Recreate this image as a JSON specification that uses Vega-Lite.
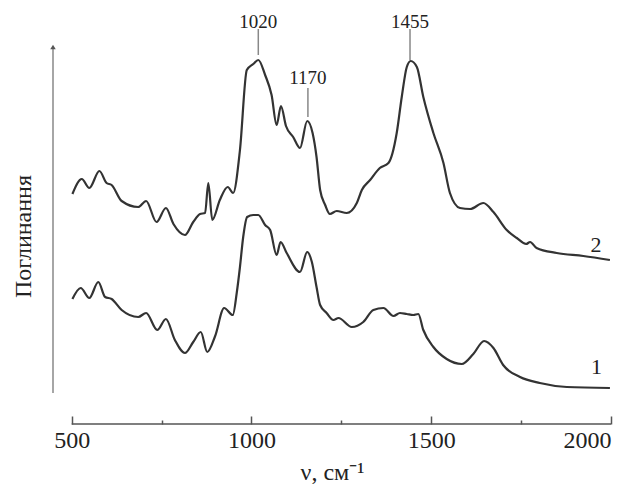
{
"$schema":"https://vega.github.io/schema/vega-lite/v6.json",
"width":558,"height":414,"autosize":"none",
"padding":{"left":53,"top":10,"right":12,"bottom":66},
"background":"white",
"config":{"view":{"stroke":null},"font":"Liberation Serif","axis":{"grid":false}},
"datasets":{
"spectra":[
{"s":"2","wn":502,"a":230},{"s":"2","wn":528,"a":245},{"s":"2","wn":549,"a":236},{"s":"2","wn":577,"a":253},{"s":"2","wn":597,"a":241},{"s":"2","wn":611,"a":239},{"s":"2","wn":639,"a":223},{"s":"2","wn":685,"a":217},{"s":"2","wn":707,"a":223},{"s":"2","wn":736,"a":202},{"s":"2","wn":762,"a":216},{"s":"2","wn":783,"a":200},{"s":"2","wn":815,"a":189},{"s":"2","wn":838,"a":202},{"s":"2","wn":857,"a":210},{"s":"2","wn":871,"a":211},{"s":"2","wn":880,"a":241},{"s":"2","wn":891,"a":204},{"s":"2","wn":912,"a":224},{"s":"2","wn":934,"a":237},{"s":"2","wn":949,"a":231},{"s":"2","wn":968,"a":274},{"s":"2","wn":987,"a":354},{"s":"2","wn":1005,"a":360},{"s":"2","wn":1019,"a":364},{"s":"2","wn":1038,"a":349},{"s":"2","wn":1056,"a":329},{"s":"2","wn":1070,"a":299},{"s":"2","wn":1082,"a":318},{"s":"2","wn":1096,"a":298},{"s":"2","wn":1116,"a":287},{"s":"2","wn":1135,"a":276},{"s":"2","wn":1155,"a":303},{"s":"2","wn":1170,"a":291},{"s":"2","wn":1181,"a":267},{"s":"2","wn":1191,"a":234},{"s":"2","wn":1205,"a":219},{"s":"2","wn":1218,"a":210},{"s":"2","wn":1237,"a":213},{"s":"2","wn":1265,"a":211},{"s":"2","wn":1293,"a":221},{"s":"2","wn":1307,"a":234},{"s":"2","wn":1330,"a":244},{"s":"2","wn":1357,"a":256},{"s":"2","wn":1381,"a":261},{"s":"2","wn":1404,"a":291},{"s":"2","wn":1418,"a":327},{"s":"2","wn":1432,"a":357},{"s":"2","wn":1443,"a":363},{"s":"2","wn":1460,"a":357},{"s":"2","wn":1478,"a":327},{"s":"2","wn":1506,"a":291},{"s":"2","wn":1534,"a":261},{"s":"2","wn":1552,"a":231},{"s":"2","wn":1580,"a":216},{"s":"2","wn":1608,"a":215},{"s":"2","wn":1645,"a":221},{"s":"2","wn":1673,"a":212},{"s":"2","wn":1710,"a":194},{"s":"2","wn":1738,"a":186},{"s":"2","wn":1764,"a":180},{"s":"2","wn":1775,"a":182},{"s":"2","wn":1793,"a":176},{"s":"2","wn":1849,"a":171},{"s":"2","wn":1923,"a":168},{"s":"2","wn":1997,"a":164},
{"s":"1","wn":502,"a":125},{"s":"1","wn":525,"a":136},{"s":"1","wn":549,"a":126},{"s":"1","wn":574,"a":142},{"s":"1","wn":593,"a":127},{"s":"1","wn":611,"a":125},{"s":"1","wn":639,"a":114},{"s":"1","wn":685,"a":107},{"s":"1","wn":707,"a":111},{"s":"1","wn":738,"a":94},{"s":"1","wn":762,"a":105},{"s":"1","wn":787,"a":84},{"s":"1","wn":815,"a":71},{"s":"1","wn":838,"a":82},{"s":"1","wn":859,"a":92},{"s":"1","wn":877,"a":72},{"s":"1","wn":899,"a":88},{"s":"1","wn":924,"a":116},{"s":"1","wn":948,"a":109},{"s":"1","wn":959,"a":131},{"s":"1","wn":968,"a":157},{"s":"1","wn":977,"a":187},{"s":"1","wn":988,"a":207},{"s":"1","wn":1005,"a":209},{"s":"1","wn":1019,"a":209},{"s":"1","wn":1038,"a":199},{"s":"1","wn":1052,"a":194},{"s":"1","wn":1070,"a":169},{"s":"1","wn":1081,"a":182},{"s":"1","wn":1098,"a":171},{"s":"1","wn":1135,"a":152},{"s":"1","wn":1155,"a":172},{"s":"1","wn":1168,"a":162},{"s":"1","wn":1181,"a":137},{"s":"1","wn":1191,"a":119},{"s":"1","wn":1209,"a":111},{"s":"1","wn":1228,"a":104},{"s":"1","wn":1242,"a":106},{"s":"1","wn":1279,"a":97},{"s":"1","wn":1311,"a":102},{"s":"1","wn":1339,"a":114},{"s":"1","wn":1367,"a":116},{"s":"1","wn":1395,"a":108},{"s":"1","wn":1413,"a":111},{"s":"1","wn":1432,"a":110},{"s":"1","wn":1450,"a":109},{"s":"1","wn":1464,"a":110},{"s":"1","wn":1478,"a":94},{"s":"1","wn":1506,"a":77},{"s":"1","wn":1543,"a":65},{"s":"1","wn":1585,"a":60},{"s":"1","wn":1617,"a":70},{"s":"1","wn":1647,"a":83},{"s":"1","wn":1673,"a":76},{"s":"1","wn":1700,"a":59},{"s":"1","wn":1747,"a":47},{"s":"1","wn":1802,"a":41},{"s":"1","wn":1877,"a":37},{"s":"1","wn":1997,"a":36}
],
"peaks":[{"label":"1020","wn":1019,"t":402,"y1":369,"y2":395},{"label":"1170","wn":1157,"t":346,"y1":307,"y2":336},{"label":"1455","wn":1441,"t":402,"y1":364,"y2":395}],
"curvelabels":[{"label":"1","wn":1960,"a":57},{"label":"2","wn":1958,"a":179}],
"xaxisline":[{"x1":500,"x2":2000,"y":0}],
"yaxisline":[{"x":448,"y1":31,"y2":376}],
"arrow":[{"x":448,"y":377}],
"minor":[{"wn":750},{"wn":1250},{"wn":1750}]
},
"layer":[
{"data":{"name":"spectra"},
 "mark":{"type":"line","color":"#333","strokeWidth":2.2,"interpolate":"monotone"},
 "encoding":{
  "x":{"field":"wn","type":"quantitative","scale":{"domain":[448,2000],"nice":false,"zero":false},
   "axis":{"orient":"bottom","values":[500,1000,1500,2000],"format":"d","tickSize":-8,"tickColor":"#555","tickWidth":1.5,"domain":false,"labelFontSize":24,"labelColor":"#222","labelPadding":12,"labelFlush":true,"title":"ν, см⁻¹","titleFontSize":24,"titleFontWeight":"normal","titleColor":"#222","titlePadding":8}},
  "y":{"field":"a","type":"quantitative","scale":{"domain":[0,414],"nice":false,"zero":false},
   "axis":{"orient":"left","domain":false,"ticks":false,"labels":false,"title":"Поглинання","titleFontSize":24,"titleFontWeight":"normal","titleColor":"#222","titlePadding":18,"titleY":226}},
  "detail":{"field":"s","type":"nominal"}}},
{"data":{"name":"minor"},
 "mark":{"type":"point","opacity":0},
 "encoding":{
  "x":{"field":"wn","type":"quantitative","axis":{"orient":"bottom","values":[750,1250,1750],"tickSize":-4,"tickColor":"#555","tickWidth":1.5,"domain":false,"labels":false,"title":null}},
  "y":{"datum":0,"type":"quantitative","axis":null}}},
{"data":{"name":"xaxisline"},
 "mark":{"type":"rule","color":"#555","strokeWidth":1.5},
 "encoding":{"x":{"field":"x1","type":"quantitative","axis":null},"x2":{"field":"x2"},"y":{"field":"y","type":"quantitative","axis":null}}},
{"data":{"name":"yaxisline"},
 "mark":{"type":"rule","color":"#888","strokeWidth":1.5},
 "encoding":{"x":{"field":"x","type":"quantitative","axis":null},"y":{"field":"y1","type":"quantitative","axis":null},"y2":{"field":"y2"}}},
{"data":{"name":"arrow"},
 "mark":{"type":"point","shape":"triangle-up","filled":true,"color":"#555","size":30,"opacity":1},
 "encoding":{"x":{"field":"x","type":"quantitative","axis":null},"y":{"field":"y","type":"quantitative","axis":null}}},
{"data":{"name":"peaks"},
 "mark":{"type":"rule","color":"#888","strokeWidth":1.5},
 "encoding":{"x":{"field":"wn","type":"quantitative","axis":null},"y":{"field":"y1","type":"quantitative","axis":null},"y2":{"field":"y2"}}},
{"data":{"name":"peaks"},
 "mark":{"type":"text","fontSize":19,"color":"#222","baseline":"middle","align":"center"},
 "encoding":{"x":{"field":"wn","type":"quantitative","axis":null},"y":{"field":"t","type":"quantitative","axis":null},"text":{"field":"label"}}},
{"data":{"name":"curvelabels"},
 "mark":{"type":"text","fontSize":22,"color":"#222","baseline":"middle","align":"center"},
 "encoding":{"x":{"field":"wn","type":"quantitative","axis":null},"y":{"field":"a","type":"quantitative","axis":null},"text":{"field":"label"}}}
],
"resolve":{"axis":{"x":"independent","y":"independent"}}
}
